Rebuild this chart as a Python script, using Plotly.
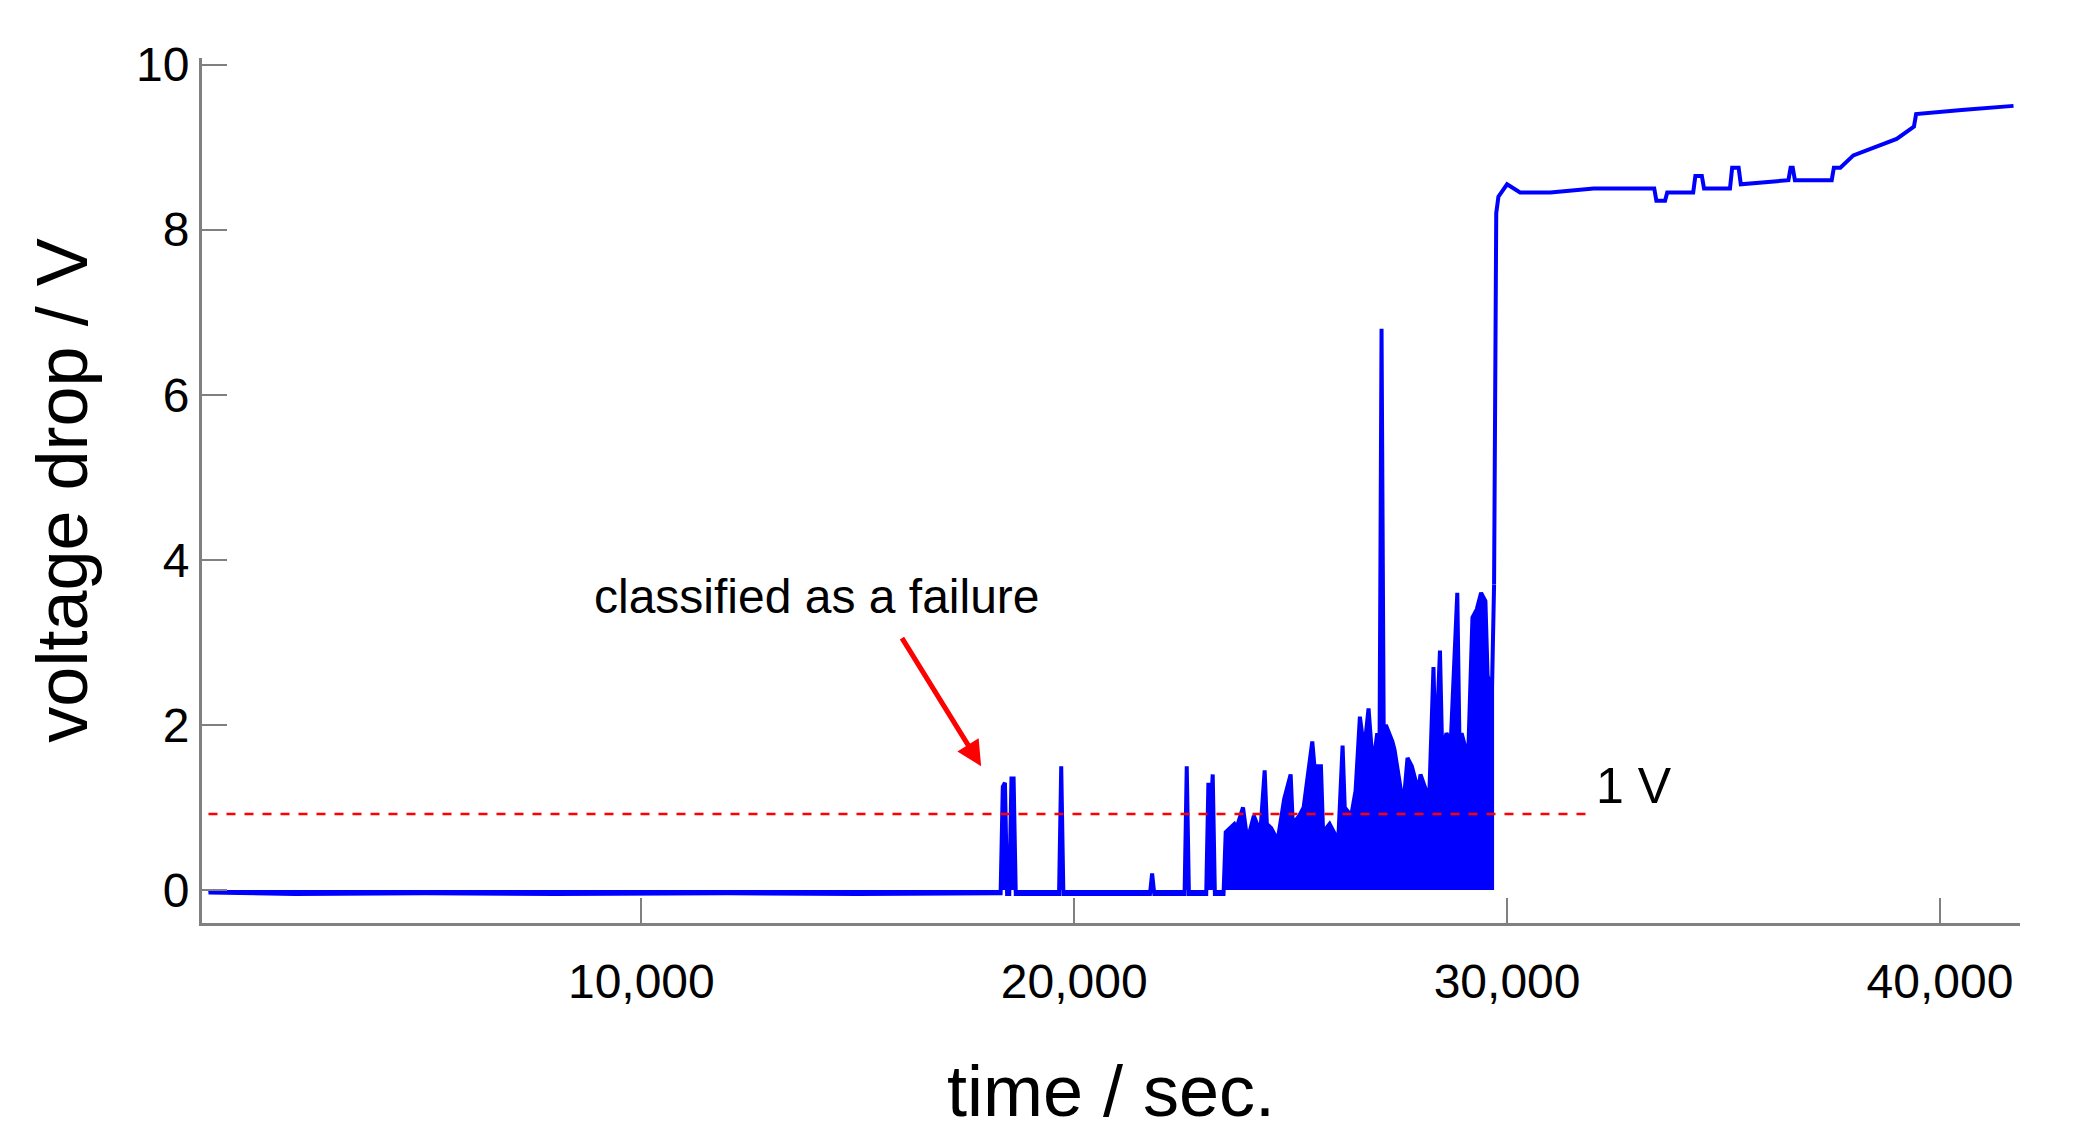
import plotly.graph_objects as go

# early part: baseline, isolated spikes and the dense burst region (filled to zero)
t_early = [0, 2000, 5000, 8000, 12000, 15000, 18300,
           18350, 18400, 18450, 18500, 18550, 18600, 18650,
           19650, 19700, 19750, 21750, 21800, 21850, 22550, 22600, 22650,
           23050, 23100, 23150, 23200, 23250, 23450,
           23500, 23700, 23750, 23900, 24000, 24150, 24300, 24400, 24450, 24550,
           24700, 24850, 25000, 25050, 25200, 25300, 25500, 25550, 25700, 25750,
           25900, 26100, 26200, 26250, 26400, 26500, 26600, 26700, 26800, 26900,
           27000, 27050, 27100, 27150, 27200, 27350, 27400, 27550, 27600, 27700,
           27800, 27950, 28000, 28200, 28300, 28350, 28450, 28500, 28600, 28700,
           28850, 28900, 28950, 29100, 29200, 29300, 29400, 29500, 29550, 29650, 29700]
v_early = [-0.03, -0.05, -0.04, -0.05, -0.04, -0.05, -0.04,
           1.25, 1.3, -0.05, -0.05, 1.35, 1.35, -0.05,
           -0.05, 1.5, -0.05, -0.05, 0.2, -0.05, -0.05, 1.5, -0.05,
           -0.05, 1.3, 0.9, 1.4, -0.05, -0.05,
           0.7, 0.8, 0.75, 1.0, 0.6, 0.9, 0.7, 1.45, 0.8, 0.75,
           0.6, 1.1, 1.4, 0.8, 0.9, 1.0, 1.8, 1.5, 1.5, 0.7,
           0.8, 0.6, 1.75, 1.0, 0.9, 1.2, 2.1, 1.7, 2.2, 1.5,
           1.9, 1.3, 6.8, 1.9, 2.0, 1.8, 1.7, 1.2, 1.0, 1.6,
           1.5, 1.2, 1.4, 1.1, 2.7, 1.6, 2.9, 1.7, 1.9, 1.8,
           3.6, 1.8, 1.9, 1.6, 3.3, 3.4, 3.6, 3.5, 2.6, 2.4, 3.7]

# late part: jump and plateau with small steps
t_late = [29700, 29750, 29800, 30000, 30300, 31000, 32000, 33400, 33450, 33650,
          33700, 34300, 34350, 34500, 34550, 35150, 35200, 35350, 35400, 36500,
          36550, 36600, 36650, 37500, 37550, 37700, 38000, 39000, 39400, 39450,
          40500, 41700]
v_late = [3.7, 8.2, 8.4, 8.55, 8.45, 8.45, 8.5, 8.5, 8.35, 8.35,
          8.45, 8.45, 8.65, 8.65, 8.5, 8.5, 8.75, 8.75, 8.55, 8.6,
          8.75, 8.75, 8.6, 8.6, 8.75, 8.75, 8.9, 9.1, 9.25, 9.4,
          9.45, 9.5]

threshold = 0.92
x_ticks = [10000, 20000, 30000, 40000]
y_ticks = [0, 2, 4, 6, 8, 10]

fig = go.Figure()
fig.add_trace(go.Scatter(x=t_early, y=v_early, mode='lines', fill='tozeroy',
                         fillcolor='#0000ff', line=dict(color='#0000ff', width=4)))
fig.add_trace(go.Scatter(x=t_late, y=v_late, mode='lines',
                         line=dict(color='#0000ff', width=4)))
fig.add_trace(go.Scatter(x=[0, 32000], y=[threshold, threshold], mode='lines',
                         line=dict(color='red', width=2.5, dash='dash')))

fig.add_annotation(x=17850, y=1.5, ax=16000, ay=3.07, xref='x', yref='y',
                   axref='x', ayref='y', showarrow=True, arrowhead=2, arrowsize=1,
                   arrowwidth=5, arrowcolor='red', text='')
fig.add_annotation(x=14060, y=3.56, text='classified as a failure', showarrow=False,
                   font=dict(size=48, color='black'))
fig.add_annotation(x=32000, y=1.26, text='1 V', showarrow=False, xanchor='left',
                   font=dict(size=50, color='black'))

axis_common = dict(showgrid=False, zeroline=False, showline=True, linecolor='#808080',
                   linewidth=3, ticks='inside', tickcolor='#808080', tickwidth=2,
                   ticklen=25, tickfont=dict(size=48, color='black'))
fig.update_layout(
    width=2089, height=1131, showlegend=False,
    plot_bgcolor='white', paper_bgcolor='white',
    font=dict(family='Liberation Sans, Arial'),
    margin=dict(l=194, r=77, t=50, b=216),
    xaxis=dict(range=[-150, 41850], tickvals=x_ticks, tickformat=',', ticklabelstandoff=14,
               title=dict(text='time / sec.', font=dict(size=72, color='black'), standoff=60),
               **axis_common),
    yaxis=dict(range=[-0.4, 10.08], tickvals=y_ticks,
               title=dict(text='voltage drop / V', font=dict(size=72, color='black'), standoff=25),
               **axis_common),
)

fig.write_html("out.html")
